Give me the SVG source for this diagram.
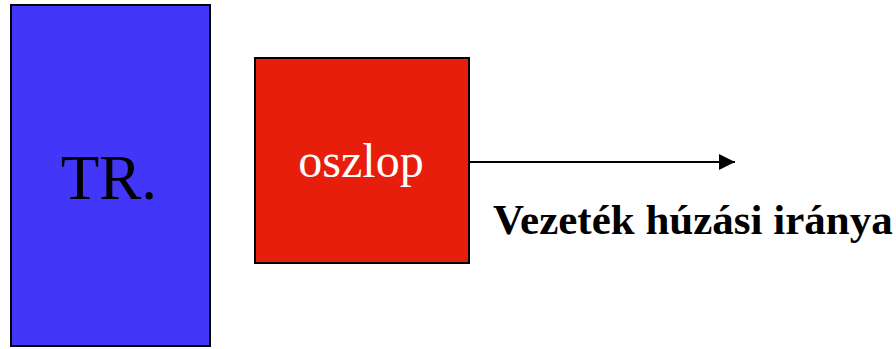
<svg xmlns="http://www.w3.org/2000/svg" width="896" height="349" viewBox="0 0 896 349">
<style>
.box{stroke:#000;stroke-width:2}
.lbl{font-family:"Liberation Serif","Times New Roman",serif;text-anchor:middle}
</style>
<defs>
<marker id="ah" markerWidth="16" markerHeight="16" refX="16" refY="8" orient="auto" markerUnits="userSpaceOnUse">
<path d="M0,0 L16,8 L0,16 Z" fill="#000"/>
</marker>
</defs>
<rect width="896" height="349" fill="#fff"/>
<g id="tr">
<rect class="box" x="11" y="5" width="199" height="341" fill="#4237F8"/>
<text class="lbl" x="109" y="199" font-size="63" fill="#000">TR.</text>
</g>
<g id="oszlop">
<rect class="box" x="255" y="58" width="214" height="205" fill="#E81E0C"/>
<text class="lbl" x="361" y="177" font-size="48" fill="#fff">oszlop</text>
</g>
<g id="connectors">
<line x1="470" y1="162" x2="735" y2="162" stroke="#000" stroke-width="2" marker-end="url(#ah)"/>
</g>
<text x="493" y="234" font-family="'Liberation Serif','Times New Roman',serif" font-weight="bold" font-size="43" fill="#000">Vezeték húzási iránya</text>
</svg>
